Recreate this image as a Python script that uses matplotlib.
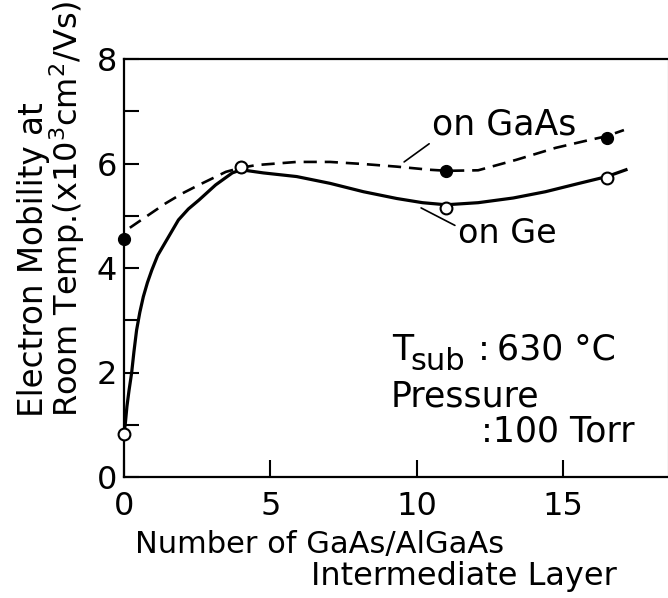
import matplotlib
matplotlib.use("Agg")
import matplotlib.pyplot as plt
from matplotlib.ticker import MultipleLocator

# measured points
layers = [0, 4, 11, 16.5]
mob_gaas = [4.55, 5.93, 5.86, 6.49]
mob_ge = [0.82, 5.93, 5.15, 5.72]

# guide curves
gaas_curve_x = [0.2, 0.8, 1.43, 2.0, 2.56, 3.48, 4.0, 4.53, 5.9, 7.04, 8.18, 9.32,
                10.45, 11.05, 12.1, 13.4, 14.75, 15.9, 16.47, 17.08]
gaas_curve_y = [4.77, 5.0, 5.24, 5.43, 5.59, 5.84, 5.92, 5.97, 6.03, 6.03, 5.99, 5.94,
                5.88, 5.86, 5.87, 6.07, 6.30, 6.45, 6.52, 6.64]
ge_curve_x = [0.0, 0.05, 0.1, 0.17, 0.26, 0.34, 0.43, 0.54, 0.66, 0.8, 0.95, 1.15,
              1.4, 1.86, 2.2, 2.56, 3.13, 3.7, 4.0, 4.76, 5.9, 7.04, 8.18, 9.32,
              10.2, 11.0, 12.1, 13.3, 14.4, 15.55, 16.5, 17.15]
ge_curve_y = [0.82, 1.05, 1.35, 1.65, 1.99, 2.4, 2.81, 3.15, 3.45, 3.72, 3.96, 4.24,
              4.48, 4.92, 5.13, 5.3, 5.59, 5.82, 5.88, 5.82, 5.75, 5.62, 5.46, 5.33,
              5.25, 5.21, 5.25, 5.34, 5.46, 5.62, 5.75, 5.88]

W, H = 668, 598
plt.rcParams["font.family"] = "DejaVu Sans"


def fx(px):
    return px / W


def fy(py):
    return 1 - py / H


fig = plt.figure(figsize=(W / 100, H / 100), dpi=100)
ax = fig.add_axes([fx(124), fy(477), fx(668) - fx(124), fy(59) - fy(477)])

ax.plot(gaas_curve_x, gaas_curve_y, color="black", lw=1.9, dashes=(5, 3))
ax.plot(ge_curve_x, ge_curve_y, color="black", lw=2.3)
ax.plot(layers, mob_gaas, "o", color="black", ms=8.5, clip_on=False, zorder=3)
ax.plot(layers, mob_ge, "o", mfc="white", mec="black", mew=1.5, ms=8.5,
        clip_on=False, zorder=4)

ax.set_xlim(0, (668 - 124) / 29.27)
ax.set_ylim(0, 8)
ax.xaxis.set_major_locator(MultipleLocator(5))
ax.yaxis.set_major_locator(MultipleLocator(2))
ax.yaxis.set_minor_locator(MultipleLocator(1))
ax.tick_params(axis="both", which="both", direction="in", width=1.5,
               labelsize=23, colors="black")
ax.tick_params(axis="y", which="both", length=11, pad=5)
ax.tick_params(axis="x", which="major", length=12, pad=10)
ax.tick_params(top=False, right=False)
for side in ["left", "bottom", "top"]:
    ax.spines[side].set_linewidth(1.6)
ax.spines["right"].set_color("#d0d0d0")
ax.spines["right"].set_linewidth(1.0)

# labels on the curves
ax.annotate("on GaAs", xy=(9.57, 6.03), xytext=(10.52, 6.55),
            fontsize=25, ha="left", va="baseline",
            arrowprops=dict(arrowstyle="-", color="black", lw=1.2,
                            shrinkA=0, shrinkB=0, relpos=(0, 0)))
ax.annotate("on Ge", xy=(10.15, 5.15), xytext=(11.4, 4.48),
            fontsize=24, ha="left", va="baseline",
            arrowprops=dict(arrowstyle="-", color="black", lw=1.2,
                            shrinkA=0, shrinkB=0, relpos=(0, 0.7)))

# growth conditions
ax.text(9.16, 2.24, "T", fontsize=25, ha="left", va="baseline")
ax.text(9.8, 2.05, "sub", fontsize=22, ha="left", va="baseline")
ax.text(12.1, 2.24, ":", fontsize=25, ha="left", va="baseline")
ax.text(12.75, 2.24, "630 \u00b0C", fontsize=25, ha="left", va="baseline")
ax.text(9.12, 1.34, "Pressure", fontsize=25, ha="left", va="baseline")
ax.text(12.2, 0.67, ":100 Torr", fontsize=25, ha="left", va="baseline")

# axis titles
fig.text(fx(135), fy(553), "Number of GaAs/AlGaAs", fontsize=22,
         ha="left", va="baseline")
fig.text(fx(617), fy(585), "Intermediate Layer", fontsize=23,
         ha="right", va="baseline")
fig.text(fx(43), fy(417), "Electron Mobility at", fontsize=23.5, rotation=90,
         rotation_mode="anchor", ha="left", va="baseline")
fig.text(fx(78), fy(417), r"Room Temp.(x10$^{\mathregular{3}}$cm$^{\mathregular{2}}$/Vs)",
         fontsize=23, rotation=90, rotation_mode="anchor", ha="left", va="baseline")

fig.savefig("out.png", dpi=100)
